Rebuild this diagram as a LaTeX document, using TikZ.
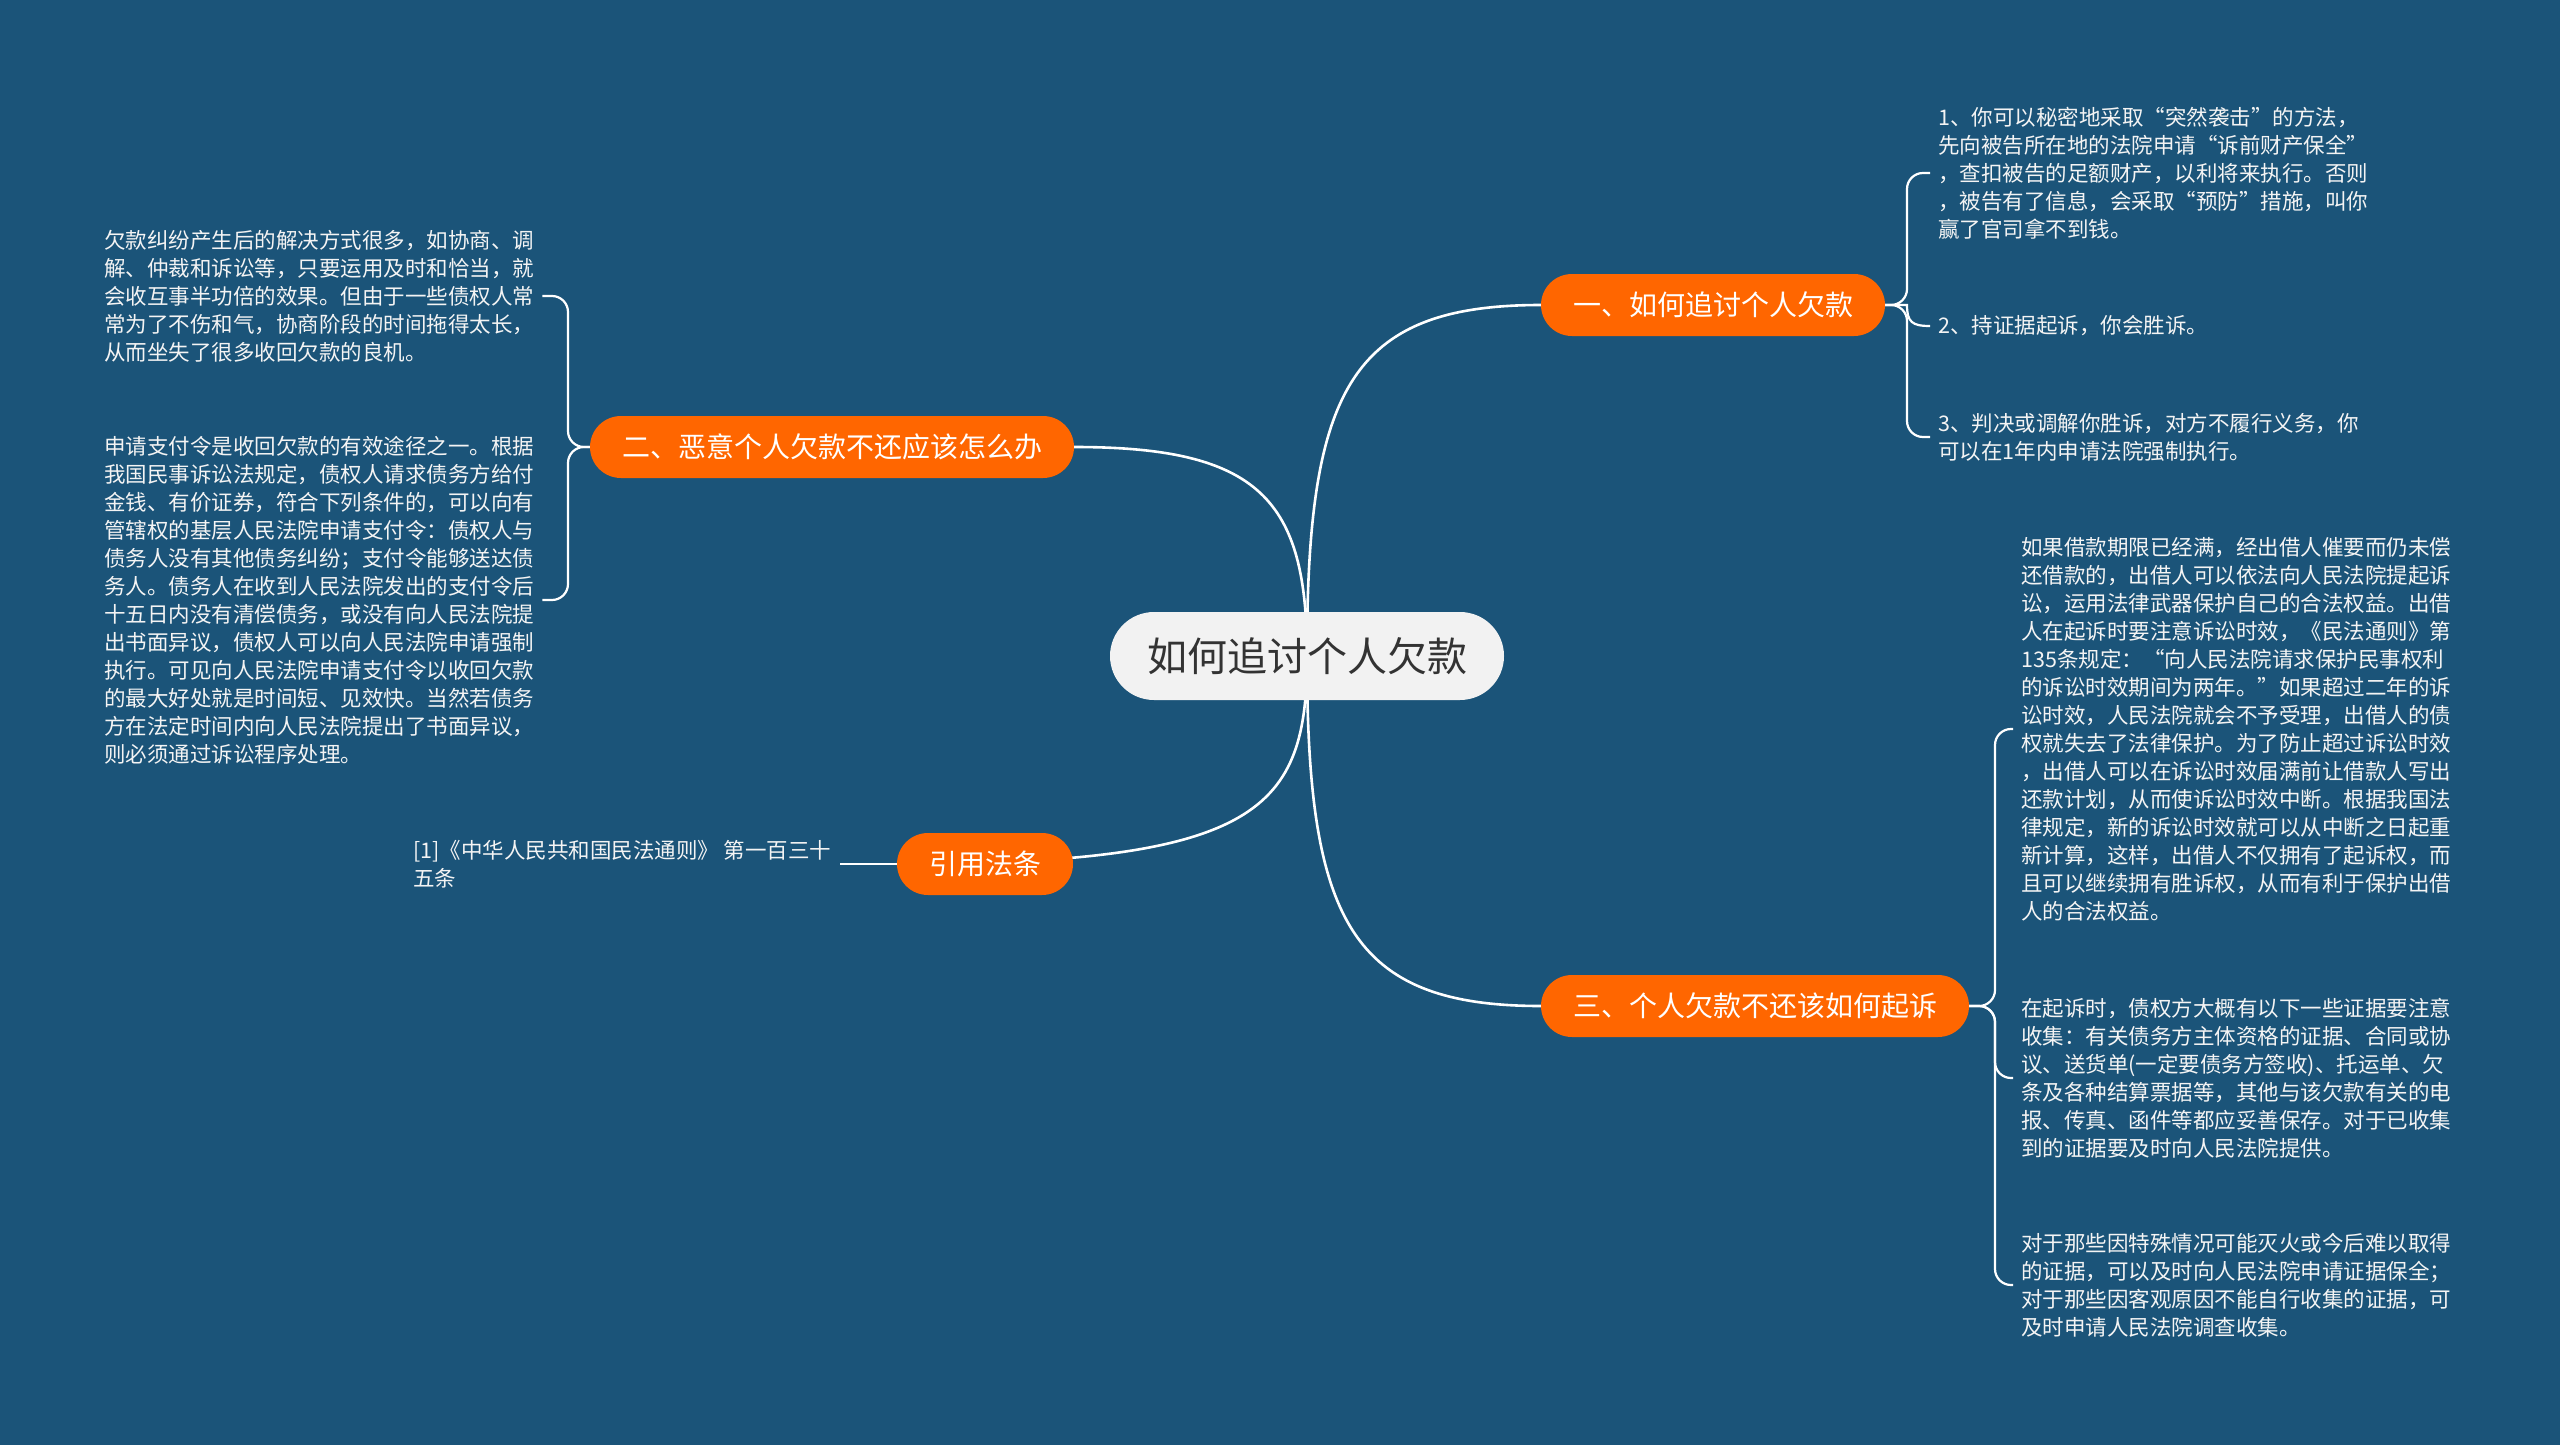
\documentclass[tikz,border=0pt]{standalone}
\usepackage{fontspec}
\setmainfont{Noto Sans CJK SC}
\definecolor{bgblue}{HTML}{1B5479}
\definecolor{orangebr}{HTML}{FF6600}
\definecolor{centerfill}{HTML}{F2F2F2}
\definecolor{centertext}{HTML}{333333}
\definecolor{leaftext}{HTML}{F4F4F4}
\pgfdeclarelayer{bglayer}
\pgfdeclarelayer{edgelayer}
\pgfsetlayers{bglayer,edgelayer,main}
\tikzset{
  centerbox/.style={fill=centerfill, text=centertext, rounded corners=44pt,
    minimum height=88pt, inner xsep=37pt, inner ysep=0pt,
    font=\fontsize{40}{48}\selectfont},
  branchbox/.style={fill=orangebr, text=white, rounded corners=31pt,
    minimum height=62pt, inner xsep=32pt, inner ysep=0pt,
    font=\fontsize{28}{34}\selectfont},
  leafbox/.style={text=leaftext, align=left, inner xsep=8pt, inner ysep=2pt,
    font=\fontsize{21.5}{28}\selectfont},
  mainline/.style={draw=white, line width=2.6pt},
  leafline/.style={draw=white, line width=2.2pt, rounded corners=16pt},
}
\begin{document}
\begin{tikzpicture}[x=1pt,y=-1pt]
\begin{pgfonlayer}{bglayer}
\fill[bgblue] (0,0) rectangle (2560,1445);
\end{pgfonlayer}
\useasboundingbox (0,0) rectangle (2560,1445);

% centre and branches
\node[centerbox] (c) at (1307,656) {如何追讨个人欠款};
\node[branchbox] (b1) at (1713,305) {一、如何追讨个人欠款};
\node[branchbox] (b2) at (832,447) {二、恶意个人欠款不还应该怎么办};
\node[branchbox] (b3) at (1755,1006) {三、个人欠款不还该如何起诉};
\node[branchbox] (b4) at (985,864) {引用法条};

% leaves of branch 1
\node[leafbox, anchor=west] (l1) at (1930,173) {1、你可以秘密地采取“突然袭击”的方法，\\先向被告所在地的法院申请“诉前财产保全”\\，查扣被告的足额财产，以利将来执行。否则\\，被告有了信息，会采取“预防”措施，叫你\\赢了官司拿不到钱。};
\node[leafbox, anchor=west] (l2) at (1930,326) {2、持证据起诉，你会胜诉。};
\node[leafbox, anchor=west] (l3) at (1930,437) {3、判决或调解你胜诉，对方不履行义务，你\\可以在1年内申请法院强制执行。};

% leaves of branch 2
\node[leafbox, anchor=west] (lA) at (96,296) {欠款纠纷产生后的解决方式很多，如协商、调\\解、仲裁和诉讼等，只要运用及时和恰当，就\\会收互事半功倍的效果。但由于一些债权人常\\常为了不伤和气，协商阶段的时间拖得太长，\\从而坐失了很多收回欠款的良机。};
\node[leafbox, anchor=west] (lB) at (96,600) {申请支付令是收回欠款的有效途径之一。根据\\我国民事诉讼法规定，债权人请求债务方给付\\金钱、有价证券，符合下列条件的，可以向有\\管辖权的基层人民法院申请支付令：债权人与\\债务人没有其他债务纠纷；支付令能够送达债\\务人。债务人在收到人民法院发出的支付令后\\十五日内没有清偿债务，或没有向人民法院提\\出书面异议，债权人可以向人民法院申请强制\\执行。可见向人民法院申请支付令以收回欠款\\的最大好处就是时间短、见效快。当然若债务\\方在法定时间内向人民法院提出了书面异议，\\则必须通过诉讼程序处理。};

% leaves of branch 3
\node[leafbox, anchor=west] (lC) at (2013,729) {如果借款期限已经满，经出借人催要而仍未偿\\还借款的，出借人可以依法向人民法院提起诉\\讼，运用法律武器保护自己的合法权益。出借\\人在起诉时要注意诉讼时效，《民法通则》第\\135条规定：“向人民法院请求保护民事权利\\的诉讼时效期间为两年。”如果超过二年的诉\\讼时效，人民法院就会不予受理，出借人的债\\权就失去了法律保护。为了防止超过诉讼时效\\，出借人可以在诉讼时效届满前让借款人写出\\还款计划，从而使诉讼时效中断。根据我国法\\律规定，新的诉讼时效就可以从中断之日起重\\新计算，这样，出借人不仅拥有了起诉权，而\\且可以继续拥有胜诉权，从而有利于保护出借\\人的合法权益。};
\node[leafbox, anchor=west] (lD) at (2013,1078) {在起诉时，债权方大概有以下一些证据要注意\\收集：有关债务方主体资格的证据、合同或协\\议、送货单(一定要债务方签收)、托运单、欠\\条及各种结算票据等，其他与该欠款有关的电\\报、传真、函件等都应妥善保存。对于已收集\\到的证据要及时向人民法院提供。};
\node[leafbox, anchor=west] (lE) at (2013,1285) {对于那些因特殊情况可能灭火或今后难以取得\\的证据，可以及时向人民法院申请证据保全；\\对于那些因客观原因不能自行收集的证据，可\\及时申请人民法院调查收集。};

% leaf of branch 4
\node[leafbox, anchor=west] (l4) at (405,864) {[1]《中华人民共和国民法通则》 第一百三十\\五条};

\coordinate (j1) at (1907,305);
\coordinate (j2) at (568,447);
\coordinate (j3) at (1995,1006);

\begin{pgfonlayer}{edgelayer}
% centre to branches
\draw[mainline] (c.center) .. controls (1307,390) and (1350,305) .. (b1.west);
\draw[mainline] (c.center) .. controls (1307,500) and (1260,447) .. (b2.east);
\draw[mainline] (c.center) .. controls (1307,920) and (1350,1006) .. (b3.west);
\draw[mainline] (c.center) .. controls (1307,810) and (1260,864) .. (b4.west);
% branch 1 leaves
\draw[leafline] (b1.east) -- (j1) |- (l1.west);
\draw[leafline, rounded corners=0pt] (b1.east) -- (j1) .. controls (1907,322) and (1912,326) .. (l2.west);
\draw[leafline] (b1.east) -- (j1) |- (l3.west);
% branch 2 leaves
\draw[leafline] (b2.west) -- (j2) |- (lA.east);
\draw[leafline] (b2.west) -- (j2) |- (lB.east);
% branch 3 leaves
\draw[leafline] (b3.east) -- (j3) |- (lC.west);
\draw[leafline] (b3.east) -- (j3) |- (lD.west);
\draw[leafline] (b3.east) -- (j3) |- (lE.west);
% branch 4 leaf
\draw[leafline] (b4.west) -- (l4.east |- b4.west);
\end{pgfonlayer}
\end{tikzpicture}
\end{document}
